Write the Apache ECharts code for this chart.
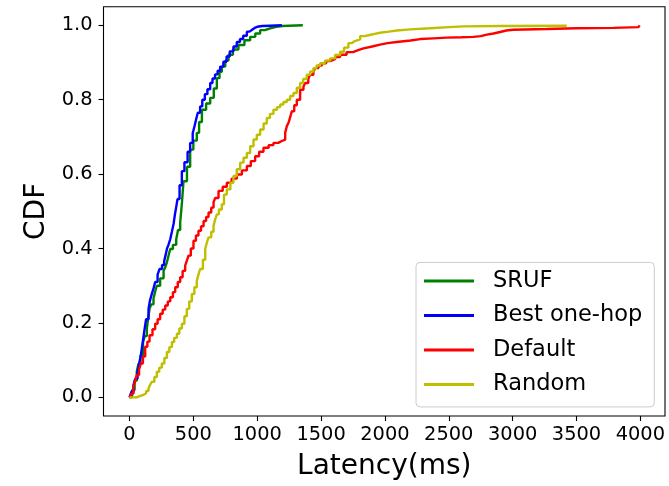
<!DOCTYPE html>
<html>
<head>
<meta charset="utf-8">
<script src="https://cdn.jsdelivr.net/npm/echarts@6/dist/echarts.min.js"></script>
<style>
html,body{margin:0;padding:0;background:#fff;}
#chart{width:669px;height:486px;}
</style>
</head>
<body>
<div id="chart"></div>
<script>
// ---- data (latency ms, CDF) ----
const seriesNames = ['SRUF', 'Best one-hop', 'Default', 'Random'];
const xTicks = [0, 500, 1000, 1500, 2000, 2500, 3000, 3500, 4000];
const yTicks = [0, 0.2, 0.4, 0.6, 0.8, 1.0];

const srufData = [[0,0],[20,0.02],[40,0.045],[57,0.069],[70,0.09],[86,0.113],[106,0.148],[120,0.165],[136,0.185],[145,0.21],[157,0.238],[170,0.25],[188,0.266],[200,0.283],[214,0.30],[240,0.32],[267,0.34],[280,0.35],[293,0.363],[305,0.38],[319,0.399],[340,0.41],[366,0.425],[380,0.45],[397,0.47],[410,0.52],[423,0.581],[450,0.62],[475,0.666],[500,0.69],[527,0.711],[545,0.74],[567,0.773],[600,0.79],[632,0.805],[660,0.83],[684,0.858],[705,0.875],[723,0.889],[750,0.905],[775,0.921],[810,0.935],[853,0.947],[900,0.96],[945,0.969],[985,0.978],[1023,0.987],[1060,0.992],[1101,0.996],[1150,0.998],[1200,0.999],[1250,1.0],[1357,1.0]];

const bestOneHopData = [[0,0],[15,0.015],[31,0.033],[45,0.05],[63,0.069],[75,0.09],[89,0.113],[100,0.14],[115,0.176],[130,0.21],[149,0.238],[160,0.26],[175,0.278],[190,0.295],[201,0.310],[220,0.33],[235,0.345],[255,0.356],[272,0.367],[283,0.383],[293,0.399],[305,0.41],[319,0.425],[332,0.445],[345,0.466],[355,0.49],[365,0.51],[376,0.533],[392,0.57],[410,0.608],[430,0.632],[455,0.66],[475,0.684],[495,0.71],[510,0.73],[520,0.745],[535,0.765],[553,0.782],[570,0.8],[590,0.815],[610,0.828],[632,0.845],[650,0.857],[670,0.868],[690,0.878],[710,0.889],[735,0.902],[760,0.916],[785,0.93],[814,0.943],[840,0.955],[865,0.963],[890,0.972],[919,0.983],[940,0.988],[960,0.993],[980,0.996],[1000,0.998],[1040,0.999],[1100,1.0],[1193,1.0]];

const defaultData = [[0,0],[15,0.01],[31,0.028],[45,0.045],[57,0.06],[75,0.075],[89,0.091],[105,0.11],[123,0.136],[140,0.15],[157,0.167],[180,0.183],[201,0.198],[220,0.21],[240,0.225],[260,0.236],[280,0.247],[300,0.258],[319,0.269],[340,0.283],[358,0.296],[378,0.31],[397,0.323],[416,0.34],[436,0.354],[450,0.368],[462,0.381],[480,0.4],[501,0.421],[520,0.435],[540,0.448],[560,0.46],[580,0.474],[600,0.485],[619,0.497],[640,0.51],[658,0.524],[671,0.536],[697,0.555],[730,0.566],[762,0.577],[800,0.588],[841,0.599],[880,0.61],[919,0.622],[950,0.635],[984,0.648],[1015,0.66],[1049,0.671],[1090,0.678],[1127,0.684],[1165,0.689],[1193,0.693],[1219,0.711],[1232,0.729],[1245,0.738],[1260,0.755],[1271,0.769],[1290,0.785],[1310,0.800],[1336,0.827],[1362,0.835],[1375,0.845],[1400,0.856],[1414,0.867],[1440,0.875],[1453,0.885],[1480,0.892],[1506,0.898],[1540,0.904],[1571,0.909],[1610,0.915],[1649,0.921],[1700,0.928],[1750,0.933],[1790,0.938],[1832,0.943],[1900,0.948],[1962,0.952],[2020,0.955],[2093,0.959],[2200,0.963],[2276,0.965],[2380,0.967],[2484,0.968],[2600,0.969],[2693,0.971],[2750,0.975],[2798,0.978],[2850,0.982],[2902,0.986],[2950,0.988],[3006,0.99],[3267,0.992],[3500,0.993],[3789,0.995],[3985,0.996],[3995,1.0]];

const randomData = [[0,0],[19,0.0],[57,0.004],[85,0.007],[110,0.011],[130,0.017],[149,0.024],[160,0.033],[175,0.042],[195,0.055],[214,0.069],[233,0.08],[253,0.091],[273,0.106],[293,0.122],[312,0.135],[332,0.149],[350,0.16],[371,0.171],[390,0.185],[410,0.198],[430,0.218],[449,0.238],[468,0.258],[488,0.278],[508,0.296],[527,0.314],[540,0.33],[553,0.345],[575,0.37],[593,0.399],[605,0.415],[619,0.43],[640,0.445],[658,0.461],[670,0.477],[684,0.492],[700,0.505],[723,0.519],[740,0.545],[762,0.559],[790,0.577],[814,0.595],[840,0.613],[867,0.631],[893,0.644],[919,0.657],[945,0.675],[971,0.693],[997,0.706],[1023,0.72],[1050,0.736],[1075,0.751],[1100,0.762],[1127,0.773],[1155,0.78],[1180,0.787],[1205,0.794],[1232,0.800],[1258,0.81],[1284,0.818],[1310,0.832],[1336,0.845],[1360,0.856],[1388,0.867],[1414,0.876],[1440,0.885],[1465,0.892],[1493,0.898],[1530,0.905],[1571,0.911],[1610,0.92],[1649,0.929],[1680,0.94],[1714,0.952],[1740,0.957],[1760,0.962],[1806,0.971],[1840,0.974],[1880,0.977],[1920,0.98],[1962,0.983],[2030,0.986],[2093,0.989],[2200,0.992],[2354,0.995],[2500,0.997],[2615,0.998],[2902,0.999],[3424,1.0]];

const seriesColors = ['#008000', '#0000ff', '#ff0000', '#bfbf00'];
const seriesData = [srufData, bestOneHopData, defaultData, randomData];

const FONT = 'DejaVu Sans';
const chart = echarts.init(document.getElementById('chart'), null, {renderer: 'canvas'});

const option = {
  animation: false,
  backgroundColor: '#ffffff',
  grid: {
    left: 103.5, top: 6.7, right: 4, bottom: 68.7,
    show: true, borderColor: '#000', borderWidth: 1.1, backgroundColor: 'transparent'
  },
  xAxis: {
    type: 'value',
    min: -203.5, max: 4193,
    name: 'Latency(ms)',
    nameLocation: 'middle',
    nameGap: 37,
    nameTextStyle: {fontFamily: FONT, fontSize: 28, color: '#000'},
    axisLine: {show: false, onZero: false},
    splitLine: {show: false},
    axisTick: {show: true, length: 5, lineStyle: {color: '#000', width: 1.1}, customValues: xTicks},
    axisLabel: {fontFamily: FONT, fontSize: 19.4, color: '#000', margin: 9, customValues: xTicks,
      formatter: v => String(v)}
  },
  yAxis: {
    type: 'value',
    min: -0.05, max: 1.05,
    name: 'CDF',
    nameLocation: 'middle',
    nameGap: 50,
    nameRotate: 90,
    nameTextStyle: {fontFamily: FONT, fontSize: 28, color: '#000'},
    axisLine: {show: false, onZero: false},
    splitLine: {show: false},
    axisTick: {show: true, length: 5, lineStyle: {color: '#000', width: 1.1}, customValues: yTicks},
    axisLabel: {fontFamily: FONT, fontSize: 19.4, color: '#000', margin: 11, customValues: yTicks,
      formatter: v => v.toFixed(1)}
  },
  legend: {
    orient: 'vertical',
    left: 416, top: 262.4,
    padding: [7, 12, 11, 8],
    itemWidth: 50, itemHeight: 3,
    itemGap: 11.5,
    icon: 'rect',
    backgroundColor: '#fff',
    borderColor: '#cccccc', borderWidth: 1, borderRadius: 4,
    textStyle: {fontFamily: FONT, fontSize: 22.5, lineHeight: 23, color: '#000', padding: [0, 0, 0, 14]},
    data: seriesNames
  },
  series: seriesNames.map((n, i) => ({
    name: n,
    type: 'line',
    step: 'end',
    symbol: 'none',
    data: seriesData[i],
    lineStyle: {color: seriesColors[i], width: 2.4},
    itemStyle: {color: seriesColors[i]},
    z: 2 + i
  }))
};
chart.setOption(option);
</script>
</body>
</html>
